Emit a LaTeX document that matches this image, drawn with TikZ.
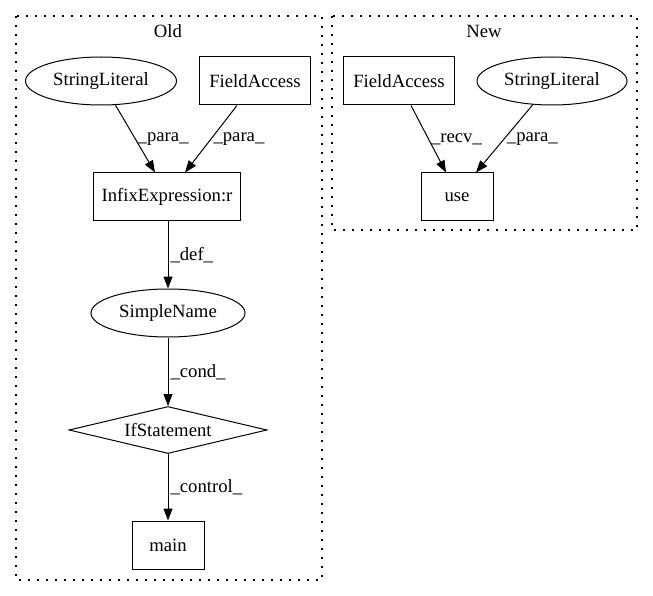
\documentclass[tikz,border=0pt]{standalone}
\usepackage{fontspec}
\setmainfont{Liberation Serif}
\usetikzlibrary{arrows.meta,shapes.geometric}

\begin{document}
\begin{tikzpicture}[->,>={Triangle[length=12pt,width=9pt]},x=1pt,y=-1pt,
  line width=1pt,font=\fontsize{18.7}{22}\selectfont,
  box node/.style={rectangle,draw,minimum height=48pt,inner sep=0pt},
  oval node/.style={ellipse,draw,minimum height=48pt,inner sep=0pt},
  cond node/.style={diamond,draw,aspect=4,minimum width=198pt,minimum height=47pt,inner sep=0pt},
  cluster/.style={draw,-,line width=1.2pt,dash pattern=on 1.8pt off 7.2pt},
  lbl/.style={midway,right,inner sep=2pt}]
    \useasboundingbox (0,0) rectangle (653,596);
    % clusters
    \draw[cluster] (16,16) rectangle (322,580);
    \draw[cluster] (332,16) rectangle (637,230);
    \node(oldlbl) at (168,31){Old};
    \node(newlbl) at (484,31){New};
    % old
    \node[oval node,minimum width=151pt](sl1) at (101,81){StringLiteral};
    \node[box node,minimum width=111pt](fa1) at (255,81){FieldAccess};
    \node[box node,minimum width=147pt](infix) at (167,197){InfixExpression:r};
    \node[oval node,minimum width=154pt](sname) at (168,313){SimpleName};
    \node[cond node](ifst) at (168,430){IfStatement};
    \node[box node,minimum width=72pt](main) at (168,545){main};
    % new
    \node[box node,minimum width=111pt](fa2) at (399,81){FieldAccess};
    \node[oval node,minimum width=150pt](sl2) at (552,81){StringLiteral};
    \node[box node,minimum width=72pt](use) at (457,197){use};

    \draw (sl1.-59) -- node[lbl]{\_para\_} ([xshift=-12pt]infix.north);
    \draw ([xshift=-18pt]fa1.south) -- node[lbl]{\_para\_} ([xshift=18pt]infix.north);
    \draw ([xshift=1pt]infix.south) -- node[lbl]{\_def\_} (sname);
    \draw (sname) -- node[lbl]{\_cond\_} (ifst);
    \draw (ifst) -- node[lbl]{\_control\_} (main);
    \draw ([xshift=12pt]fa2.south) -- node[lbl]{\_recv\_} ([xshift=-11pt]use.north);
    \draw (sl2.-129) -- node[lbl]{\_para\_} ([xshift=19pt]use.north);

\end{tikzpicture}
\end{document}
